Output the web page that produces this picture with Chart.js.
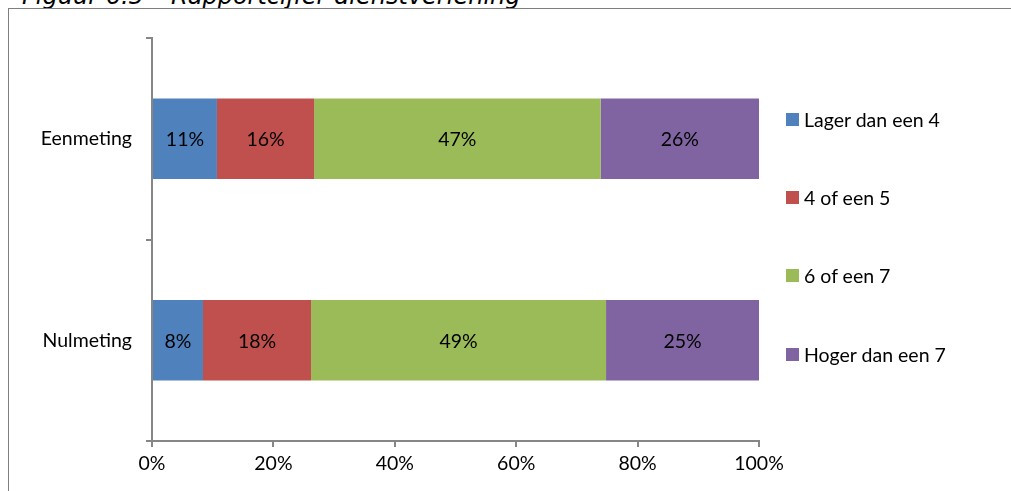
<!DOCTYPE html>
<html>
<head>
<meta charset="utf-8">
<script src="https://cdn.jsdelivr.net/npm/chart.js@4/dist/chart.umd.min.js"></script>
<style>
  html, body { margin: 0; padding: 0; background: #fff; }
  #wrap { position: relative; width: 1011px; height: 491px; overflow: hidden; }
  #frameTop { position: absolute; left: 8px; top: 8px; width: 1003px; height: 1px; background: #7f7f7f; }
  #frameLeft { position: absolute; left: 8px; top: 8px; width: 1px; height: 483px; background: #7f7f7f; }
  #title { position: absolute; left: 22px; top: -16px; font-family: "DejaVu Sans", sans-serif; font-style: italic; font-size: 24px; line-height: 24px; color: #000; white-space: nowrap; }
  #chartBox { position: absolute; left: 0; top: 0; width: 1011px; height: 491px; }
  #legend { position: absolute; left: 786px; top: 0; font-family: Lato, "Open Sans", sans-serif; font-size: 19.5px; color: #000; }
  .li { position: absolute; left: 0; white-space: nowrap; height: 21px; line-height: 21px; }
  .sw { position: absolute; left: 0; top: 4px; width: 13px; height: 13px; }
  .lt { position: absolute; left: 18px; top: 0; }
</style>
</head>
<body>
<div id="wrap">
  <div id="title">Figuur 6.5 – Rapportcijfer dienstverlening</div>
  <div id="frameTop"></div>
  <div id="frameLeft"></div>
  <div id="chartBox"><canvas id="c" width="1011" height="491"></canvas></div>
  <div id="legend"></div>
</div>
<script>
const categories = ["Eenmeting", "Nulmeting"];
const seriesNames = ["Lager dan een 4", "4 of een 5", "6 of een 7", "Hoger dan een 7"];
const seriesColors = ["#4F81BD", "#C0504D", "#9BBB59", "#8064A2"];
const lagerDan4 = [10.7, 8.4];
const vierOf5 = [16.0, 17.8];
const zesOf7 = [47.2, 48.6];
const hogerDan7 = [26.1, 25.2];
const valueLabels = [["11%", "8%"], ["16%", "18%"], ["47%", "49%"], ["26%", "25%"]];
const xTickValues = [0, 20, 40, 60, 80, 100];

const seriesValues = [lagerDan4, vierOf5, zesOf7, hogerDan7];
const FONT = 'Lato, "Open Sans", sans-serif';
const FSIZE = 19.5;

const legendEl = document.getElementById('legend');
const legendTops = [109, 187, 265, 344];
seriesNames.forEach((n, i) => {
  const d = document.createElement('div');
  d.className = 'li';
  d.style.top = legendTops[i] + 'px';
  d.innerHTML = '<span class="sw" style="background:' + seriesColors[i] + '"></span><span class="lt"></span>';
  d.querySelector('.lt').textContent = n;
  legendEl.appendChild(d);
});

const labelPlugin = {
  id: 'segLabels',
  afterDatasetsDraw(chart) {
    const ctx = chart.ctx;
    ctx.save();
    ctx.font = FSIZE + 'px ' + FONT;
    ctx.fillStyle = '#000';
    ctx.textAlign = 'center';
    ctx.textBaseline = 'middle';
    chart.data.datasets.forEach((ds, di) => {
      const meta = chart.getDatasetMeta(di);
      meta.data.forEach((el, i) => {
        const p = el.getProps(['x', 'y', 'base'], true);
        ctx.fillText(valueLabels[di][i], (p.x + p.base) / 2, p.y + 1);
      });
    });
    ctx.restore();
  }
};

const axisColor = '#868686';
new Chart(document.getElementById('c'), {
  type: 'bar',
  data: {
    labels: categories,
    datasets: seriesNames.map((n, i) => ({
      label: n,
      data: seriesValues[i],
      backgroundColor: seriesColors[i],
      borderWidth: 0,
      categoryPercentage: 1,
      barPercentage: 0.4
    }))
  },
  options: {
    indexAxis: 'y',
    responsive: false,
    animation: false,
    events: [],
    layout: { padding: { top: 38, right: 252, left: 0, bottom: 0 } },
    plugins: { legend: { display: false }, tooltip: { enabled: false }, title: { display: false } },
    scales: {
      x: {
        stacked: true,
        min: 0, max: 100,
        afterBuildTicks: s => { s.ticks = xTickValues.map(v => ({ value: v })); },
        ticks: { callback: v => v + '%', color: '#000', font: { family: FONT, size: FSIZE }, padding: 5, maxRotation: 0 },
        grid: { drawOnChartArea: false, drawTicks: true, tickLength: 6, color: axisColor, lineWidth: 2 },
        border: { color: axisColor, width: 2 },
        afterFit: s => { s.height = 50; }
      },
      y: {
        stacked: true,
        offset: true,
        ticks: { color: '#000', font: { family: FONT, size: FSIZE }, padding: 14 },
        grid: { offset: true, drawOnChartArea: false, drawTicks: true, tickLength: 6, color: axisColor, lineWidth: 2 },
        border: { color: axisColor, width: 2 },
        afterFit: s => { s.width = 152; }
      }
    }
  },
  plugins: [labelPlugin]
});
</script>
</body>
</html>
